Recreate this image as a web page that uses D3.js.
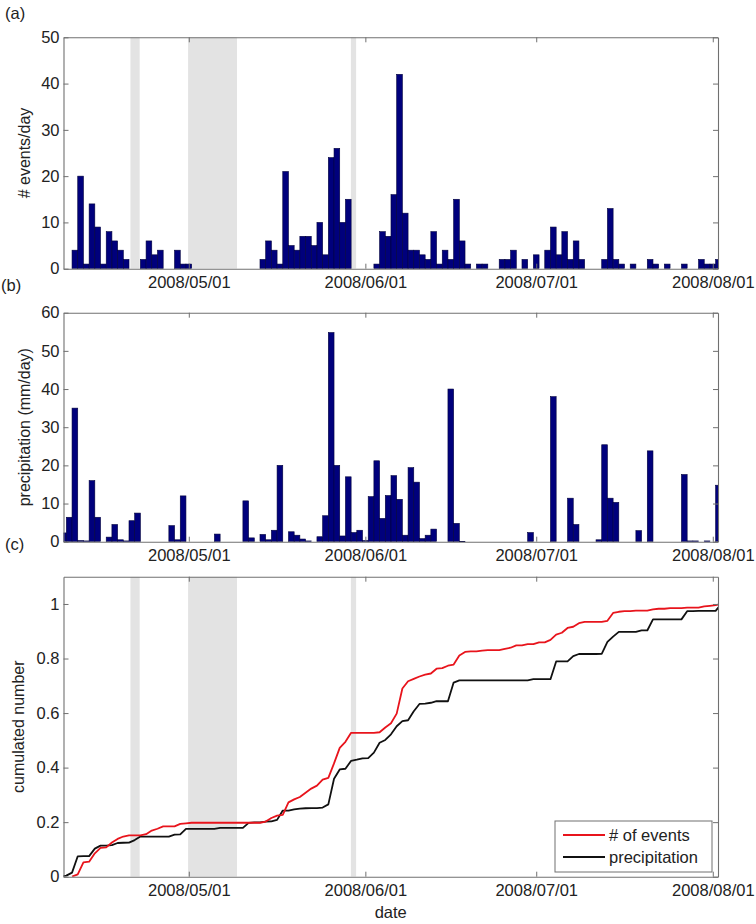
<!DOCTYPE html>
<html>
<head>
<meta charset="utf-8">
<script src="https://d3js.org/d3.v7.min.js"></script>
<style>
  body { margin: 0; background: #fff; }
  text { font-family: "Liberation Sans", Arial, Helvetica, sans-serif; fill: #222; }
</style>
</head>
<body>
<div id="chart"></div>
<script>

// ---- data ----

// (a) number of events per day
var eventDates = ["2008-04-11","2008-04-12","2008-04-13","2008-04-14","2008-04-15","2008-04-16","2008-04-17","2008-04-18","2008-04-19","2008-04-20",
  "2008-04-23","2008-04-24","2008-04-25","2008-04-26","2008-04-29","2008-04-30","2008-05-01",
  "2008-05-14","2008-05-15","2008-05-16","2008-05-17","2008-05-18","2008-05-19","2008-05-20","2008-05-21","2008-05-22","2008-05-23","2008-05-24","2008-05-25","2008-05-26","2008-05-27","2008-05-28","2008-05-29",
  "2008-06-03","2008-06-04","2008-06-05","2008-06-06","2008-06-07","2008-06-08","2008-06-09","2008-06-10","2008-06-11","2008-06-12","2008-06-13","2008-06-14","2008-06-15","2008-06-16","2008-06-17","2008-06-18","2008-06-19",
  "2008-06-21","2008-06-22","2008-06-25","2008-06-26","2008-06-27","2008-06-29","2008-07-01","2008-07-03","2008-07-04","2008-07-05","2008-07-06","2008-07-07","2008-07-08","2008-07-09",
  "2008-07-13","2008-07-14","2008-07-15","2008-07-16","2008-07-18","2008-07-21","2008-07-22","2008-07-24","2008-07-27","2008-07-30","2008-07-31","2008-08-01","2008-08-02"];
var eventCounts = [4,20,1,14,9,1,8,6,4,2,
  2,6,3,4,4,1,1,
  2,6,4,1,21,5,4,7,7,5,10,3,24,26,10,15,
  1,8,7,16,42,12,4,4,3,2,8,1,4,2,15,6,1,
  1,1,2,2,4,2,3,4,9,3,8,2,6,2,
  2,13,2,1,1,2,1,1,1,2,1,1,2];

// (b) precipitation, mm/day
var rainDates = ["2008-04-09","2008-04-10","2008-04-11","2008-04-12","2008-04-13","2008-04-14","2008-04-15","2008-04-17","2008-04-18","2008-04-19","2008-04-20","2008-04-21","2008-04-22",
  "2008-04-28","2008-04-29","2008-04-30","2008-05-06","2008-05-11","2008-05-12",
  "2008-05-14","2008-05-15","2008-05-16","2008-05-17","2008-05-19","2008-05-20","2008-05-21","2008-05-22","2008-05-24","2008-05-25","2008-05-26","2008-05-27","2008-05-28","2008-05-29","2008-05-30","2008-05-31",
  "2008-06-01","2008-06-02","2008-06-03","2008-06-04","2008-06-05","2008-06-06","2008-06-07","2008-06-08","2008-06-09","2008-06-10","2008-06-11","2008-06-12","2008-06-13",
  "2008-06-16","2008-06-17","2008-06-18","2008-06-30","2008-07-04","2008-07-07","2008-07-08","2008-07-12","2008-07-13","2008-07-14","2008-07-15",
  "2008-07-19","2008-07-21","2008-07-27","2008-07-28","2008-07-29","2008-07-31","2008-08-02"];
var rainValues = [2.3,6.4,35,0.3,0.2,16,6.4,1.2,4.5,0.5,0.2,5.5,7.5,
  4.2,0.5,12,2,10.7,1,
  1.9,0.5,3,20,2.6,1.7,0.7,0.2,1.3,6.8,54.8,20,1.5,17,2.4,3,
  0.3,11.8,21.2,6.1,12.1,17.3,11.1,1.7,19.4,15.6,0.8,1.7,3.3,
  40,4.8,0.1,2.4,38,11.4,4.5,0.5,25.4,11.4,10.3,
  2.9,23.8,17.6,0.2,0.2,0.2,14.8];

// grey bands (periods without records)
var gapStarts = ["2008-04-20 18:00","2008-04-30 21:00","2008-05-29 11:00"];
var gapEnds   = ["2008-04-22 09:00","2008-05-09 11:00","2008-05-30 09:00"];

// axes
var xStart = "2008-04-09 00:00";
var xEnd = "2008-08-01 22:00";
var xTickLabels = ["2008/05/01","2008/06/01","2008/07/01","2008/08/01"];
var yTicksA = [0,10,20,30,40,50];
var yTicksB = [0,10,20,30,40,50,60];
var yTicksC = [0,0.2,0.4,0.6,0.8,1];
var legendLabels = ["# of events","precipitation"];
var legendColors = ["#e8141c","#111111"];

// ---- setup ----

var svgWidth = 756;
var svgHeight = 924;
var left = 63.5, right = 718;
var axisColor = "#707070";

var parseDay = d3.timeParse("%Y-%m-%d");
var parseTime = d3.timeParse("%Y-%m-%d %H:%M");
var parseTick = d3.timeParse("%Y/%m/%d");
var formatTick = d3.timeFormat("%Y/%m/%d");

function createSvg(parent, height, width) {
  return d3.select(parent)
    .append('svg')
    .attr('height', height)
    .attr('width', width)
    .style('background', '#fff');
}

var svg = createSvg('#chart', svgHeight, svgWidth);

var x = d3.scaleTime()
  .domain([parseTime(xStart), parseTime(xEnd)])
  .range([left, right]);

var xTicks = xTickLabels.map(parseTick);

// panel layout (top / bottom of each plot box)
var panels = [
  { name: 'a', top: 37.3, bottom: 268.7, ymax: 50, ticks: yTicksA, title: '# events/day', titleX: 30 },
  { name: 'b', top: 312.7, bottom: 541.7, ymax: 60, ticks: yTicksB, title: 'precipitation (mm/day)', titleX: 30 },
  { name: 'c', top: 576.7, bottom: 876.7, ymax: 1.1, ticks: yTicksC, title: 'cumulated number', titleX: 24 }
];

panels.forEach(function (p) {
  p.y = d3.scaleLinear().domain([0, p.ymax]).range([p.bottom, p.top]);
  // clip everything to the plot box
  svg.append('clipPath').attr('id', 'clip-' + p.name)
    .append('rect')
    .attr('x', left).attr('y', p.top)
    .attr('width', right - left).attr('height', p.bottom - p.top);
  p.g = svg.append('g').attr('clip-path', 'url(#clip-' + p.name + ')');
});

// grey bands in (a) and (c)
function drawGaps(p) {
  p.g.selectAll('rect.gap')
    .data(gapStarts.map(function (s, i) { return [parseTime(s), parseTime(gapEnds[i])]; }))
    .enter().append('rect')
    .attr('class', 'gap')
    .attr('x', function (d) { return x(d[0]); })
    .attr('width', function (d) { return x(d[1]) - x(d[0]); })
    .attr('y', p.top)
    .attr('height', p.bottom - p.top)
    .style('fill', '#e3e3e3');
}
drawGaps(panels[0]);
drawGaps(panels[2]);

// daily bars
function drawBars(p, dates, values) {
  p.g.selectAll('rect.bar')
    .data(dates.map(function (d, i) { return { t: parseDay(d), v: values[i] }; }))
    .enter().append('rect')
    .attr('class', 'bar')
    .attr('x', function (d) { return x(d3.timeHour.offset(d.t, -12)); })
    .attr('width', function (d) { return x(d3.timeHour.offset(d.t, 12)) - x(d3.timeHour.offset(d.t, -12)); })
    .attr('y', function (d) { return p.y(d.v); })
    .attr('height', function (d) { return p.bottom - p.y(d.v); })
    .style('fill', '#00007c')
    .style('stroke', '#00003c')
    .style('stroke-width', 0.6);
}
drawBars(panels[0], eventDates, eventCounts);
drawBars(panels[1], rainDates, rainValues);

// cumulated, normalised series built from the daily values
function cumulative(dates, values) {
  var lookup = new Map(dates.map(function (d, i) { return [+parseDay(d), values[i]]; }));
  var first = parseDay(dates[0]);
  var last = parseDay(dates[dates.length - 1]);
  var days = d3.timeDay.range(first, d3.timeDay.offset(last, 1));
  var daily = days.map(function (d) { return lookup.get(+d) || 0; });
  var cum = d3.cumsum(daily);
  var total = cum[cum.length - 1];
  var pts = [{ t: d3.timeHour.offset(first, -12), v: 0 }];
  days.forEach(function (d, i) {
    pts.push({ t: d3.timeHour.offset(d, 12), v: cum[i] / total });
  });
  return pts;
}

var pc = panels[2];
var line = d3.line()
  .x(function (d) { return x(d.t); })
  .y(function (d) { return pc.y(d.v); });

var series = [cumulative(eventDates, eventCounts), cumulative(rainDates, rainValues)];

// black first so red sits on top
[1, 0].forEach(function (i) {
  pc.g.append('path')
    .datum(series[i])
    .attr('d', line)
    .style('fill', 'none')
    .style('stroke', legendColors[i])
    .style('stroke-width', 1.8)
    .style('stroke-linejoin', 'round');
});

// axes: box with inward ticks on all four sides
panels.forEach(function (p) {
  var gb = svg.append('g').attr('transform', 'translate(0,' + p.bottom + ')')
    .call(d3.axisBottom(x).tickValues(xTicks).tickFormat(formatTick)
      .tickSizeInner(-5).tickSizeOuter(0).tickPadding(8));
  var gt = svg.append('g').attr('transform', 'translate(0,' + p.top + ')')
    .call(d3.axisTop(x).tickValues(xTicks).tickFormat('')
      .tickSizeInner(-5).tickSizeOuter(0));
  var gl = svg.append('g').attr('transform', 'translate(' + left + ',0)')
    .call(d3.axisLeft(p.y).tickValues(p.ticks).tickFormat(d3.format('~g'))
      .tickSizeInner(-5).tickSizeOuter(0).tickPadding(4));
  var gr = svg.append('g').attr('transform', 'translate(' + right + ',0)')
    .call(d3.axisRight(p.y).tickValues(p.ticks).tickFormat('')
      .tickSizeInner(-5).tickSizeOuter(0));

  [gb, gt, gl, gr].forEach(function (g) {
    g.select('.domain').style('stroke', axisColor).style('stroke-width', 1.1);
    g.selectAll('.tick line').style('stroke', axisColor);
    g.selectAll('.tick text')
      .style('font-size', '16.5px')
      .style('font-family', '"Liberation Sans", Arial, sans-serif')
      .style('fill', '#222');
  });

  // y axis title
  svg.append('text')
    .attr('transform', 'translate(' + p.titleX + ',' + ((p.top + p.bottom) / 2) + ') rotate(-90)')
    .attr('text-anchor', 'middle')
    .style('font-size', '16px')
    .text(p.title);
});

// panel letters
svg.append('text').attr('x', 5).attr('y', 19).style('font-size', '16.5px').text('(a)');
svg.append('text').attr('x', 1).attr('y', 291).style('font-size', '16.5px').text('(b)');
svg.append('text').attr('x', 5).attr('y', 550).style('font-size', '16.5px').text('(c)');

// x axis title
svg.append('text')
  .attr('x', (left + right) / 2).attr('y', 918)
  .attr('text-anchor', 'middle')
  .style('font-size', '16.5px')
  .text('date');

// legend
var legend = svg.append('g').attr('transform', 'translate(555,821)');
legend.append('rect')
  .attr('width', 157).attr('height', 51)
  .style('fill', '#fff')
  .style('stroke', axisColor);

var items = legend.selectAll('g.item')
  .data(legendLabels)
  .enter().append('g')
  .attr('class', 'item')
  .attr('transform', function (d, i) { return 'translate(0,' + (14 + i * 22) + ')'; });

items.append('line')
  .attr('x1', 8).attr('x2', 50)
  .style('stroke', function (d, i) { return legendColors[i]; })
  .style('stroke-width', 2);

items.append('text')
  .attr('x', 54).attr('dy', '0.35em')
  .style('font-size', '16.5px')
  .text(function (d) { return d; });

</script>
</body>
</html>
